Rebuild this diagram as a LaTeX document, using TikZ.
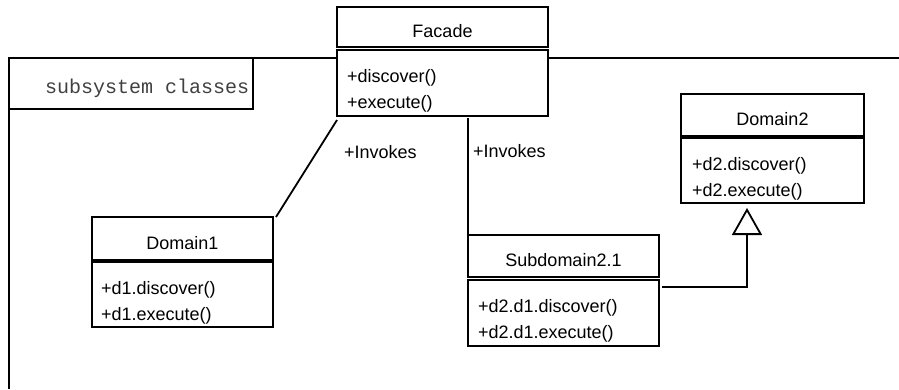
\documentclass[tikz,border=0pt]{standalone}
\usepackage{fontspec}
\setmainfont{Liberation Sans}
\newfontfamily\monofont{Liberation Mono}
\usetikzlibrary{arrows.meta}
\begin{document}
\begin{tikzpicture}[x=1pt,y=-1pt, line width=2pt,
  namebox/.style={draw, fill=white, rectangle, inner sep=0pt, outer sep=0pt, anchor=north west,
    text height=21pt, text depth=0pt, font=\fontsize{18}{21}\selectfont},
  opsbox/.style={draw, fill=white, rectangle, inner sep=0pt, outer sep=0pt, anchor=north west},
  optext/.style={anchor=base west, inner sep=0pt, font=\fontsize{18}{21}\selectfont},
  conn/.style={line width=1.8pt},
  gen/.style={conn, -{Triangle[open,length=27pt,width=30pt]}}]
\useasboundingbox (0,0) rectangle (899,389);

% package frame
\coordinate (ftl) at (9,58);
\coordinate (ftr) at (899,58);
\coordinate (fbl) at (9,389);
\draw (fbl) -- (ftl) -- (ftr);
\node[draw, rectangle, inner sep=0pt, outer sep=0pt, anchor=north west,
  minimum width=244pt, minimum height=51pt] (tab) at (9,58) {};
\node[anchor=base west, inner sep=0pt, text=black!75, font=\monofont\fontsize{20}{22}\selectfont]
  (tabtext) at (44,93) {subsystem classes};

% Facade
\node[namebox, minimum width=211pt, minimum height=40pt] (facade) at (337,7) {Facade};
\node[opsbox, minimum width=211pt, minimum height=66pt] (facadeops) at (337,50) {};
\node[optext] (f1) at (346,82) {+discover()};
\node[optext] (f2) at (346,108) {+execute()};

% Domain1
\node[namebox, minimum width=181pt, minimum height=43pt] (domain1) at (92,217) {Domain1};
\node[opsbox, minimum width=181pt, minimum height=65pt] (d1ops) at (92,262) {};
\node[optext] (d1a) at (100,294) {+d1.discover()};
\node[optext] (d1b) at (100,320) {+d1.execute()};

% Domain2
\node[namebox, minimum width=183pt, minimum height=42pt] (domain2) at (681,94) {Domain2};
\node[opsbox, minimum width=183pt, minimum height=65pt] (d2ops) at (681,138) {};
\node[optext] (d2a) at (691,170) {+d2.discover()};
\node[optext] (d2b) at (691,196) {+d2.execute()};

% Subdomain2.1
\node[namebox, minimum width=191pt, minimum height=42pt] (sub) at (468,235) {Subdomain2.1};
\node[opsbox, minimum width=191pt, minimum height=66pt] (subops) at (468,280) {};
\node[optext] (sa) at (477,312) {+d2.d1.discover()};
\node[optext] (sb) at (477,338) {+d2.d1.execute()};

% connectors
\draw[conn] ([yshift=-4pt]facadeops.south west) -- ([xshift=3pt]domain1.north east);
\node[anchor=base west, inner sep=0pt, font=\fontsize{18}{21}\selectfont] (inv1) at (343,158) {+Invokes};

\draw[conn] ([yshift=-2pt]sub.north west |- facadeops.south) -- (sub.north west);
\node[anchor=base west, inner sep=0pt, font=\fontsize{18}{21}\selectfont] (inv2) at (472,157) {+Invokes};

\coordinate (genx) at (747,0);
\draw[gen] ([xshift=3pt,yshift=-7pt]subops.north east) -| ([yshift=-5pt]d2ops.south -| genx);
\end{tikzpicture}
\end{document}
